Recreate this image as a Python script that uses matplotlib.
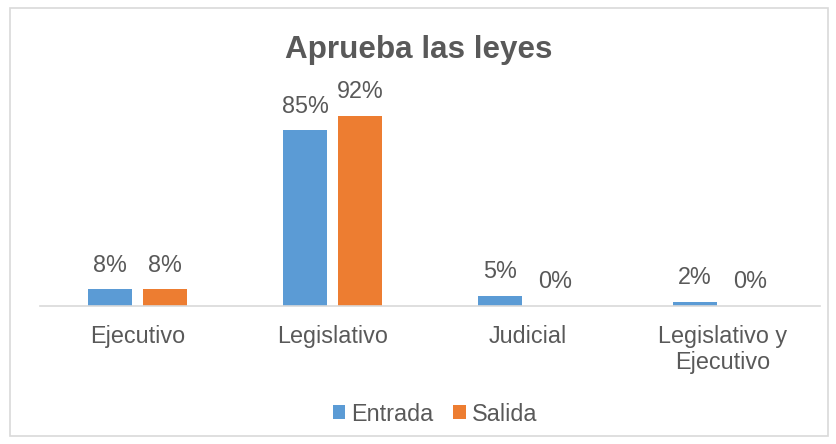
import matplotlib
matplotlib.use("Agg")
import matplotlib.pyplot as plt
from matplotlib.patches import Rectangle
import numpy as np

categories = ["Ejecutivo", "Legislativo", "Judicial", "Legislativo y\nEjecutivo"]
entrada = [8, 85, 5, 2]
salida = [8, 92, 0, 0]
series_names = ["Entrada", "Salida"]
title = "Aprueba las leyes"

plt.rcParams['font.family'] = ['Liberation Sans', 'DejaVu Sans']
txt = "#595959"
blue = "#5B9BD5"
orange = "#ED7D31"

fig = plt.figure(figsize=(8.37, 4.44), dpi=100)
fig.patches.append(Rectangle((10/837, 8/444), 818/837, 428/444, transform=fig.transFigure,
                             fill=False, edgecolor="#D9D9D9", linewidth=1.2))
ax = fig.add_axes([40/837, 1 - 306/444, 780/837, (306 - 99)/444])

x = np.arange(len(categories))
w = 0.226
off = 0.141
b1 = ax.bar(x - off, entrada, w, color=blue, label=series_names[0])
b2 = ax.bar(x + off, salida, w, color=orange, label=series_names[1])
for bars, vals in ((b1, entrada), (b2, salida)):
    for r, v in zip(bars, vals):
        ax.annotate(f"{v}%", (r.get_x() + r.get_width()/2, v), xytext=(0, 9),
                    textcoords="offset points", ha="center", va="bottom",
                    fontsize=16.8, color=txt)

ax.set_xlim(-0.5, 3.5)
ax.set_ylim(0, 100)
ax.set_yticks([])
for s in ("top", "right", "left"):
    ax.spines[s].set_visible(False)
ax.spines["bottom"].set_color("#D9D9D9")
ax.spines["bottom"].set_linewidth(1.2)
ax.set_xticks(x)
ax.set_xticklabels(categories, fontsize=16.8, color=txt, linespacing=1.15)
ax.tick_params(axis="x", length=0, pad=14)

fig.text(0.5, 1 - 50/444, title, ha="center", va="center", fontsize=22.6,
         fontweight="bold", color=txt)

leg = fig.legend(loc="center", bbox_to_anchor=(435/837, 1 - 414/444), ncol=2, frameon=False,
                 fontsize=16.8, handlelength=0.55, handleheight=0.55, handletextpad=0.25,
                 columnspacing=0.85)
for t in leg.get_texts():
    t.set_color(txt)

fig.savefig("out.png", dpi=100)
